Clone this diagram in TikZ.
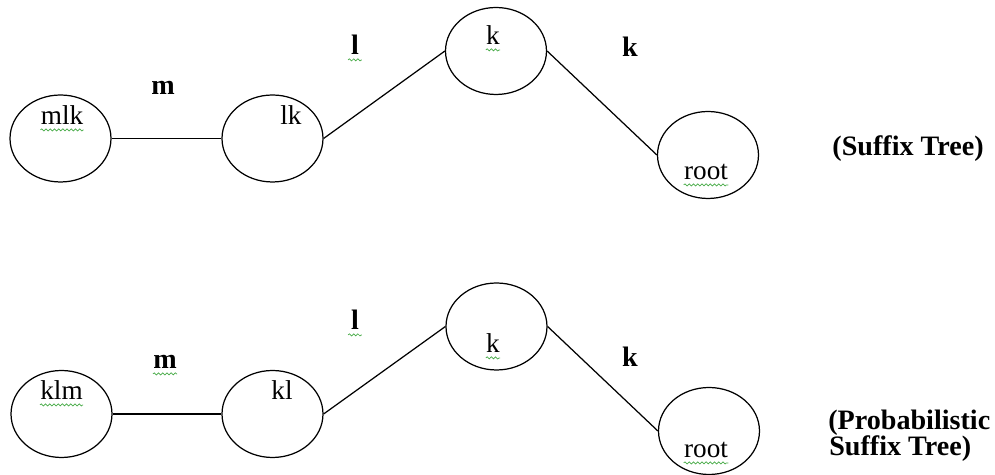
\documentclass[tikz,border=0pt]{standalone}
\usepackage{fontspec}
\setmainfont{Liberation Serif}
\usepackage{xcolor}
\definecolor{spellgreen}{RGB}{70,170,70}
\usetikzlibrary{shapes.geometric,decorations.pathmorphing}

\begin{document}
\begin{tikzpicture}[x=0.02cm,y=-0.02cm,
        state/.style={draw,ellipse,line width=0.7pt,minimum width=2.02cm,minimum height=1.74cm,inner sep=0pt},
        txt/.style={anchor=base,inner sep=0pt,font=\fontsize{15.5}{15.5}\selectfont},
        edgetxt/.style={txt,font=\fontsize{16}{16}\selectfont\bfseries},
        spell/.style={draw=spellgreen,line width=0.4pt,decorate,decoration={snake,amplitude=0.6pt,segment length=2.4pt}}]
        \useasboundingbox (0,0) rectangle (995,475);

        \node[state] (mlk) at (60.5,138.5) {};
        \node[state] (lk) at (272.5,138.5) {};
        \node[state] (k1) at (496,51) {};
        \node[state] (root1) at (708,155) {};

        \draw[line width=0.7pt] (mlk) -- (lk);
        \draw[line width=0.7pt] (lk.east) -- (k1.west);
        \draw[line width=0.7pt] (k1.east) -- (root1.west);

        \node[txt] (mlkT) at (62,125) {mlk};
        \node[txt] (lkT) at (291,125) {lk};
        \node[txt] (k1T) at (493,45) {k};
        \node[txt] (root1T) at (706,180) {root};
        \node[edgetxt] (m1) at (163,95) {m};
        \node[edgetxt] (l1) at (355,55) {l};
        \node[edgetxt] (kk1) at (630,57) {k};
        \node[edgetxt] (st) at (908,156) {(Suffix Tree)};

        \draw[spell] ([yshift=-2.8pt]mlkT.base west) -- ([yshift=-2.8pt]mlkT.base east);
        \draw[spell] ([yshift=-2.8pt]k1T.base west) -- ([yshift=-2.8pt]k1T.base east);
        \draw[spell] ([yshift=-2.8pt]root1T.base west) -- ([yshift=-2.8pt]root1T.base east);
        \draw[spell] ([xshift=-1.5pt,yshift=-2.8pt]l1.base west) -- ([xshift=1.5pt,yshift=-2.8pt]l1.base east);

        \node[state] (klm) at (61.5,414) {};
        \node[state] (kl) at (272.5,414) {};
        \node[state] (k2) at (496.5,326.5) {};
        \node[state] (root2) at (709,431) {};

        \draw[line width=1pt] (klm) -- (kl);
        \draw[line width=0.7pt] (kl.east) -- (k2.west);
        \draw[line width=0.7pt] (k2.east) -- (root2.west);

        \node[txt] (klmT) at (61.5,400) {klm};
        \node[txt] (klT) at (282,400) {kl};
        \node[txt] (k2T) at (493,353) {k};
        \node[txt] (root2T) at (706,458) {root};
        \node[edgetxt] (m2) at (165,369) {m};
        \node[edgetxt] (l2) at (355,330) {l};
        \node[edgetxt] (kk2) at (630,367) {k};
        \node[edgetxt,anchor=base west] (pst1) at (828,430) {(Probabilistic};
        \node[edgetxt,anchor=base west] (pst2) at (829,456) {Suffix Tree)};

        \draw[spell] ([yshift=-2.8pt]klmT.base west) -- ([yshift=-2.8pt]klmT.base east);
        \draw[spell] ([yshift=-2.8pt]m2.base west) -- ([yshift=-2.8pt]m2.base east);
        \draw[spell] ([yshift=-2.8pt]k2T.base west) -- ([yshift=-2.8pt]k2T.base east);
        \draw[spell] ([yshift=-2.8pt]root2T.base west) -- ([yshift=-2.8pt]root2T.base east);
        \draw[spell] ([xshift=-1.5pt,yshift=-2.8pt]l2.base west) -- ([xshift=1.5pt,yshift=-2.8pt]l2.base east);
    \end{tikzpicture}
\end{document}
